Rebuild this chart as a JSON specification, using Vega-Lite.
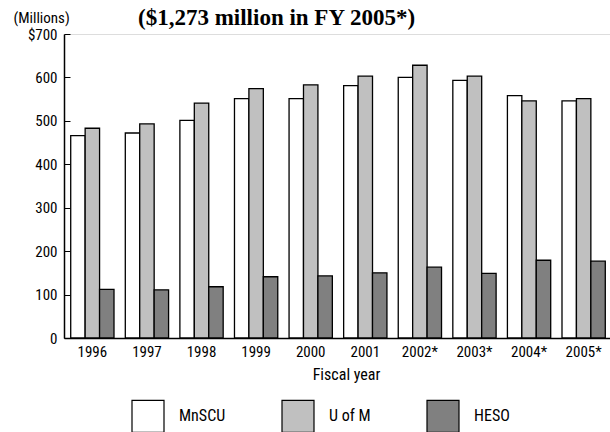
{
  "$schema": "https://vega.github.io/schema/vega-lite/v6.json",
  "width": 548,
  "height": 304,
  "autosize": {"type": "none"},
  "padding": {"left": 64, "top": 34, "right": 0, "bottom": 94},
  "background": "white",
  "title": {
    "text": "($1,273 million in FY 2005*)",
    "anchor": "start",
    "frame": "group",
    "dx": 74,
    "dy": 24,
    "font": "Liberation Serif",
    "fontSize": 23,
    "fontWeight": "bold",
    "color": "black",
    "offset": 4
  },
  "config": {
    "font": "Roboto Condensed, Liberation Sans"
  },
  "data": {
    "values": [
      {"year": "1996", "series": "MnSCU", "value": 466},
      {"year": "1996", "series": "U of M", "value": 483},
      {"year": "1996", "series": "HESO", "value": 112},
      {"year": "1997", "series": "MnSCU", "value": 472},
      {"year": "1997", "series": "U of M", "value": 493},
      {"year": "1997", "series": "HESO", "value": 111},
      {"year": "1998", "series": "MnSCU", "value": 501},
      {"year": "1998", "series": "U of M", "value": 541},
      {"year": "1998", "series": "HESO", "value": 118},
      {"year": "1999", "series": "MnSCU", "value": 551},
      {"year": "1999", "series": "U of M", "value": 574},
      {"year": "1999", "series": "HESO", "value": 141},
      {"year": "2000", "series": "MnSCU", "value": 551},
      {"year": "2000", "series": "U of M", "value": 583},
      {"year": "2000", "series": "HESO", "value": 143},
      {"year": "2001", "series": "MnSCU", "value": 581},
      {"year": "2001", "series": "U of M", "value": 603},
      {"year": "2001", "series": "HESO", "value": 150},
      {"year": "2002*", "series": "MnSCU", "value": 600},
      {"year": "2002*", "series": "U of M", "value": 628},
      {"year": "2002*", "series": "HESO", "value": 163},
      {"year": "2003*", "series": "MnSCU", "value": 593},
      {"year": "2003*", "series": "U of M", "value": 603},
      {"year": "2003*", "series": "HESO", "value": 149},
      {"year": "2004*", "series": "MnSCU", "value": 558},
      {"year": "2004*", "series": "U of M", "value": 546},
      {"year": "2004*", "series": "HESO", "value": 179},
      {"year": "2005*", "series": "MnSCU", "value": 546},
      {"year": "2005*", "series": "U of M", "value": 551},
      {"year": "2005*", "series": "HESO", "value": 177}
    ]
  },
  "mark": {"type": "bar", "stroke": "black", "strokeWidth": 1.3},
  "encoding": {
    "x": {
      "field": "year",
      "type": "nominal",
      "sort": null,
      "scale": {"paddingInner": 0.207, "paddingOuter": 0.123},
      "axis": {
        "title": "Fiscal year",
        "titleX": 282,
        "titleAlign": "center",
        "labelAngle": 0,
        "ticks": false,
        "domainColor": "black",
        "domainWidth": 1.5,
        "labelFont": "Roboto Condensed, Liberation Sans",
        "labelFontSize": 15,
        "labelColor": "black",
        "labelPadding": 6,
        "titleFont": "Roboto Condensed, Liberation Sans",
        "titleFontSize": 16,
        "titleFontWeight": "normal",
        "titleColor": "black",
        "titlePadding": 7
      }
    },
    "xOffset": {"field": "series", "type": "nominal", "sort": ["MnSCU", "U of M", "HESO"]},
    "y": {
      "field": "value",
      "type": "quantitative",
      "scale": {"domain": [0, 700], "nice": false},
      "axis": {
        "values": [0, 100, 200, 300, 400, 500, 600, 700],
        "grid": false,
        "labelExpr": "datum.value == 700 ? '$700' : datum.label",
        "tickSize": -6,
        "tickColor": "black",
        "domainColor": "black",
        "domainWidth": 1.5,
        "labelFont": "Roboto Condensed, Liberation Sans",
        "labelFontSize": 15,
        "labelColor": "black",
        "labelPadding": 13,
        "title": "(Millions)",
        "titleAngle": 0,
        "titleAlign": "left",
        "titleBaseline": "alphabetic",
        "titleX": -51,
        "titleY": -12,
        "titleFont": "Roboto Condensed, Liberation Sans",
        "titleFontSize": 15,
        "titleFontWeight": "normal",
        "titleColor": "black"
      }
    },
    "fill": {
      "field": "series",
      "type": "nominal",
      "sort": ["MnSCU", "U of M", "HESO"],
      "scale": {"domain": ["MnSCU", "U of M", "HESO"], "range": ["#ffffff", "#c0c0c0", "#808080"]},
      "legend": {
        "title": null,
        "orient": "none",
        "legendX": 67,
        "legendY": 365,
        "direction": "horizontal",
        "symbolType": "square",
        "symbolSize": 1024,
        "symbolStrokeColor": "black",
        "symbolStrokeWidth": 1.2,
        "symbolOpacity": 1,
        "labelFont": "Roboto Condensed, Liberation Sans",
        "labelFontSize": 16,
        "labelColor": "black",
        "labelOffset": 14,
        "columnPadding": 53
      }
    }
  }
}
